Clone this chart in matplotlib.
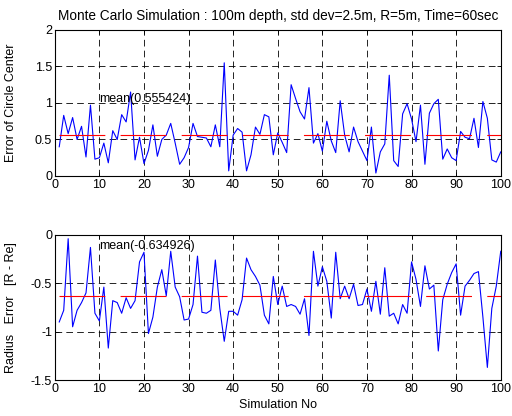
import numpy as np
import matplotlib
matplotlib.use("Agg")
import matplotlib.pyplot as plt

plt.rcParams['font.family'] = ['Liberation Sans', 'DejaVu Sans']
plt.rcParams['axes.unicode_minus'] = False
plt.rcParams['lines.scale_dashes'] = False

sim_no = np.arange(1, 101)

center_err = [
    0.40, 0.83, 0.58, 0.80, 0.50, 0.68, 0.26, 0.97, 0.23, 0.25,
    0.45, 0.18, 0.62, 0.50, 0.84, 0.74, 1.15, 0.22, 0.53, 0.17,
    0.35, 0.70, 0.27, 0.50, 0.56, 0.72, 0.45, 0.16, 0.25, 0.39,
    0.72, 0.54, 0.53, 0.52, 0.40, 0.70, 0.40, 1.55, 0.07, 0.56,
    0.65, 0.60, 0.07, 0.29, 0.67, 0.57, 0.84, 0.81, 0.29, 0.59,
    0.46, 0.32, 1.25, 1.06, 0.88, 0.78, 1.21, 0.45, 0.58, 0.34,
    0.75, 0.48, 0.32, 1.03, 0.56, 0.33, 0.67, 0.47, 0.34, 0.21,
    0.67, 0.04, 0.33, 0.44, 1.38, 0.21, 0.13, 0.85, 0.99, 0.78,
    0.47, 0.97, 0.16, 0.86, 0.99, 1.05, 0.23, 0.37, 0.25, 0.21,
    0.61, 0.53, 0.51, 0.79, 0.39, 1.02, 0.79, 0.22, 0.19, 0.33,
]

radius_err = [
    -0.90, -0.78, -0.04, -0.95, -0.78, -0.70, -0.60, -0.13, -0.81, -0.89,
    -0.54, -1.17, -0.68, -0.70, -0.81, -0.65, -0.76, -0.68, -0.28, -0.18,
    -1.02, -0.85, -0.54, -0.36, -0.63, -0.17, -0.54, -0.64, -0.88, -0.87,
    -0.72, -0.22, -0.80, -0.81, -0.78, -0.26, -0.76, -1.10, -0.79, -0.79,
    -0.83, -0.67, -0.24, -0.36, -0.43, -0.52, -0.83, -0.92, -0.43, -0.72,
    -0.53, -0.74, -0.72, -0.74, -0.82, -0.66, -1.04, -0.17, -0.53, -0.33,
    -0.48, -0.86, -0.18, -0.66, -0.53, -0.66, -0.51, -0.73, -0.72, -0.56,
    -0.79, -0.48, -0.82, -0.34, -0.84, -0.81, -0.92, -0.72, -0.81, -0.28,
    -0.46, -0.74, -0.32, -0.56, -0.52, -1.20, -0.67, -0.51, -0.39, -0.30,
    -0.83, -0.53, -0.47, -0.40, -0.38, -0.85, -1.37, -0.76, -0.53, -0.17,
]

center_mean = 0.555424
radius_mean = -0.634926

x_ticks = list(range(0, 101, 10))
top_yticks = [0, 0.5, 1, 1.5, 2]
top_ylabels = ['0', '0.5', '1', '1.5', '2']
bot_yticks = [-1.5, -1, -0.5, 0]
bot_ylabels = ['-1.5', '-1', '-0.5', '0']

fs = 9
fig = plt.figure(figsize=(5.12, 4.16), dpi=100)
ax1 = fig.add_axes([0.107, 0.577, 0.871, 0.351])
ax2 = fig.add_axes([0.107, 0.0865, 0.871, 0.349])


def style(ax, yt, yl):
    ax.set_xlim(0, 100)
    ax.set_xticks(x_ticks)
    ax.set_xticklabels([str(t) for t in x_ticks])
    ax.set_yticks(yt)
    ax.set_yticklabels(yl)
    ax.set_ylim(yt[0], yt[-1])
    ax.tick_params(direction='in', length=3, width=0.6, top=True, right=True,
                   labelsize=fs, pad=2)
    ax.grid(True, color='black', linestyle=(0, (4.8, 3.0)), linewidth=0.6)
    for s in ax.spines.values():
        s.set_linewidth(0.8)
    ax.yaxis.set_label_coords(-0.085, 0.5)


ax1.plot(sim_no, center_err, color='blue', linewidth=0.8)
ax1.plot(sim_no, [center_mean] * len(sim_no), color='red',
         linestyle=(0, (33, 11)), linewidth=0.8)
ax1.text(10, 1.05, 'mean(%g)' % center_mean, fontsize=fs, va='center')
style(ax1, top_yticks, top_ylabels)
ax1.set_ylabel('Error of Circle Center', fontsize=fs)
ax1.set_title('Monte Carlo Simulation : 100m depth, std dev=2.5m, R=5m, Time=60sec',
              fontsize=9.8, pad=7)

ax2.plot(sim_no, radius_err, color='blue', linewidth=0.8)
ax2.plot(sim_no, [radius_mean] * len(sim_no), color='red',
         linestyle=(0, (33, 11)), linewidth=0.8)
ax2.text(10, -0.12, 'mean(%g)' % radius_mean, fontsize=fs, va='center')
style(ax2, bot_yticks, bot_ylabels)
ax2.set_ylabel('Radius   Error   [R - Re]', fontsize=fs)
ax2.set_xlabel('Simulation No', fontsize=fs, labelpad=3)

fig.savefig('out.png', dpi=100)
